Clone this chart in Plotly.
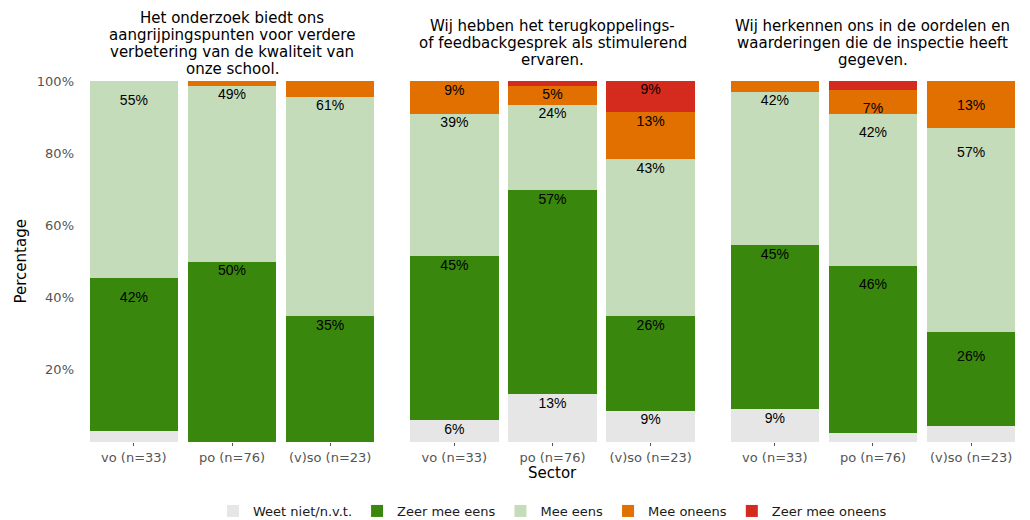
import plotly.graph_objects as go

# Survey statements (facet titles), one list of lines per facet
questions = [
    ["Het onderzoek biedt ons", "aangrijpingspunten voor verdere",
     "verbetering van de kwaliteit van", "onze school."],
    ["Wij hebben het terugkoppelings-", "of feedbackgesprek als stimulerend", "ervaren."],
    ["Wij herkennen ons in de oordelen en", "waarderingen die de inspectie heeft", "gegeven."],
]
sectors = ["vo (n=33)", "po (n=76)", "(v)so (n=23)"]
answers = ["Weet niet/n.v.t.", "Zeer mee eens", "Mee eens", "Mee oneens", "Zeer mee oneens"]
colors = ["#e6e6e6", "#3a870e", "#c5dcba", "#e17000", "#d52b1e"]

# percentages, one list per statement, in sector order
weet_niet = [[3.03, 0.00, 0.00], [6.06, 13.16, 8.70], [9.09, 2.63, 4.35]]
zeer_mee_eens = [[42.42, 50.00, 34.78], [45.45, 56.58, 26.09], [45.45, 46.05, 26.09]]
mee_eens = [[54.55, 48.68, 60.87], [39.39, 23.68, 43.48], [42.42, 42.11, 56.52]]
mee_oneens = [[0.00, 1.32, 4.35], [9.09, 5.26, 13.04], [3.03, 6.58, 13.04]]
zeer_mee_oneens = [[0.00, 0.00, 0.00], [0.00, 1.32, 8.70], [0.00, 2.63, 0.00]]

series = [weet_niet, zeer_mee_eens, mee_eens, mee_oneens, zeer_mee_oneens]
min_label = 5  # smaller segments get no label

# page body has an 8px margin, so the figure is 8px smaller each way
W, H = 1022, 512
ML, MT, MB = 67, 73, 78
PH = H - MT - MB  # plot height in px
label_drop = 3 * 100 / PH  # extra 3px drop of the labels, in data units


def py(px_from_bottom):
    # pixel offset relative to the plot bottom -> paper y
    return px_from_bottom / PH


fig = go.Figure()

domains = [[0.0, 0.3288], [0.3356, 0.6644], [0.6712, 1.0]]

for q in range(3):
    xa = "x" if q == 0 else f"x{q + 1}"
    ya = "y" if q == 0 else f"y{q + 1}"
    for a, name in enumerate(answers):
        fig.add_trace(go.Bar(
            x=sectors, y=series[a][q], name=name,
            marker=dict(color=colors[a], line=dict(width=0)),
            width=0.9, legendgroup=name, showlegend=(q == 0),
            xaxis=xa, yaxis=ya, hoverinfo="skip",
        ))
    # labels: stacked over the labelled segments only, hanging below the top
    lx, ly, lt = [], [], []
    for s, sec in enumerate(sectors):
        cum = 0
        for a in range(len(answers)):
            v = series[a][q][s]
            if v >= min_label:
                cum += v
                lx.append(sec)
                ly.append(cum - label_drop)
                lt.append(f"{v:.0f}%")
    fig.add_trace(go.Scatter(
        x=lx, y=ly, text=lt, mode="text", textposition="bottom center",
        textfont=dict(family="Liberation Sans, Arial", size=14, color="black"),
        showlegend=False, hoverinfo="skip", xaxis=xa, yaxis=ya,
    ))

tick_font = dict(family="DejaVu Sans", size=13, color="#555555")
layout = dict(
    barmode="stack",
    width=W, height=H,
    margin=dict(l=ML, r=0, t=MT, b=MB, autoexpand=False),
    plot_bgcolor="white", paper_bgcolor="white",
    font=dict(family="DejaVu Sans", size=13, color="black"),
    legend=dict(orientation="h", x=0.5, xanchor="center",
                yref="container", y=(H - 503) / H, yanchor="middle",
                font=dict(family="DejaVu Sans", size=13, color="#1a1a1a"),
                traceorder="normal", itemclick=False),
    annotations=[],
)
for q in range(3):
    key = "" if q == 0 else str(q + 1)
    layout["xaxis" + key] = dict(
        domain=domains[q], range=[-0.6, 2.6], type="category",
        showgrid=False, zeroline=False, showline=False,
        ticks="outside", ticklen=3, tickcolor="#555555",
        tickfont=tick_font, anchor="y" + key,
    )
    layout["yaxis" + key] = dict(
        range=[0, 100], showgrid=False, zeroline=False, showline=False,
        tickvals=[20, 40, 60, 80, 100],
        ticktext=["20%", "40%", "60%", "80%", "100%"],
        showticklabels=(q == 0), ticks="", tickfont=tick_font,
        anchor="x" + key,
    )
    # facet title lines, vertically centred 39px above the plot top
    lines = questions[q]
    n = len(lines)
    for i, line in enumerate(lines):
        off = (i - (n - 1) / 2) * 17
        layout["annotations"].append(dict(
            text=line, x=sum(domains[q]) / 2, y=py(PH + 38 - off),
            xref="paper", yref="paper", xanchor="center", yanchor="middle",
            showarrow=False, font=dict(family="DejaVu Sans", size=15, color="black"),
        ))

layout["annotations"].append(dict(
    text="Sector", x=0.5, y=py(-31), xref="paper", yref="paper",
    xanchor="center", yanchor="middle", showarrow=False,
    font=dict(family="DejaVu Sans", size=15, color="black"),
))
layout["annotations"].append(dict(
    text="Percentage", x=-55 / (W - ML), y=0.5, xref="paper", yref="paper",
    xanchor="center", yanchor="middle", textangle=-90, showarrow=False,
    font=dict(family="DejaVu Sans", size=15, color="black"),
))

fig.update_layout(**layout)
fig.write_html("out.html")
